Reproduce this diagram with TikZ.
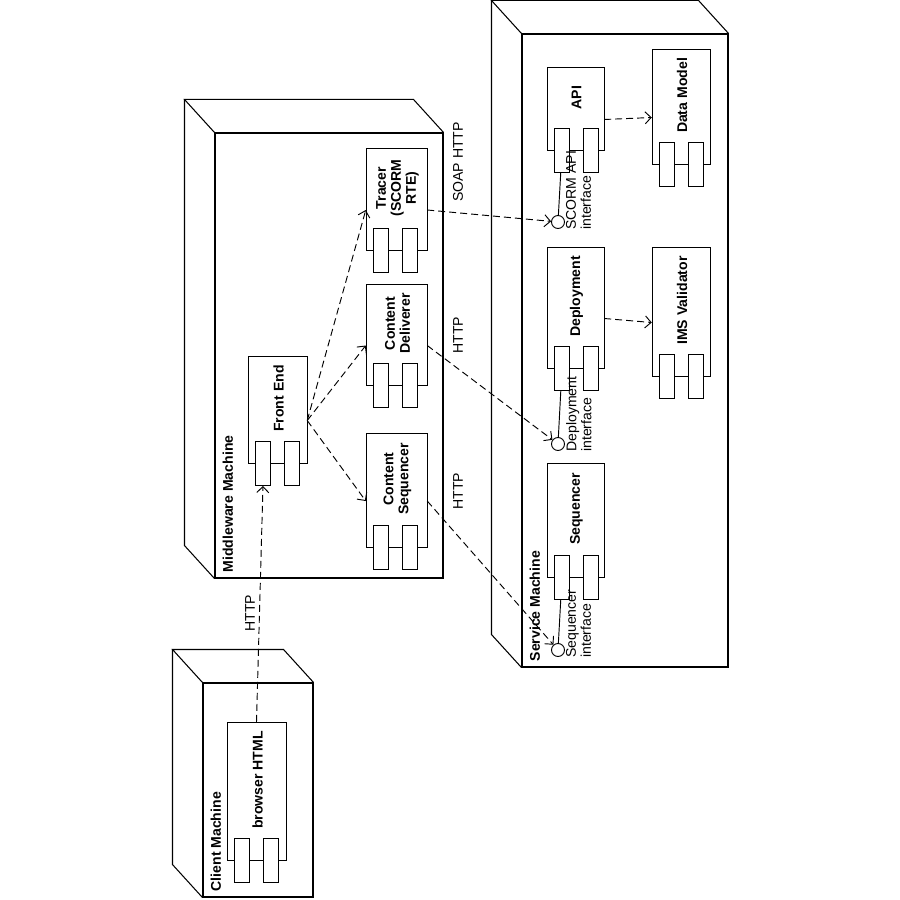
\documentclass[tikz,border=0pt]{standalone}
\usepackage{fontspec}
\setmainfont{Liberation Sans}
\usetikzlibrary{arrows.meta, positioning, calc, fit}
\newcommand{\dsize}{\fontsize{12}{12.8}\selectfont}
\tikzset{
	machine/.style={draw=black, line width=0.9pt, inner sep=0pt},
	body/.style={draw=black, line width=0.8pt},
	plug/.style={draw=black, line width=0.8pt, fill=white, minimum width=0.45cm, minimum height=1.32cm, inner sep=0pt},
	iface/.style={circle, draw=black, line width=0.8pt, fill=white, minimum size=0.39cm, inner sep=0pt},
	machlabel/.style={rotate=90, anchor=north west, inner sep=0pt, font=\dsize\bfseries},
	complabel/.style={rotate=90, align=center, inner sep=0pt, font=\dsize\bfseries},
	linklabel/.style={rotate=90, inner sep=0pt, font=\dsize},
	ifacelabel/.style={rotate=90, anchor=north west, align=left, inner sep=0pt, font=\dsize},
	deparrow/.style={-{Straight Barb[length=1.8mm, width=3.6mm]}, line width=0.8pt, dash pattern=on 2.1mm off 1.2mm},
}
% node box: name, x1, y1, x2, y2, text
\newcommand{\machine}[6]{
	\node[machine, fit={(#2,#3) (#4,#5)}] (#1) {};
	\draw[machine] (#1.north west) -- ++(-30,-33) -- ([shift={(-30,-33)}]#1.north east) -- (#1.north east);
	\draw[machine] ([shift={(-30,-33)}]#1.north west) -- ([shift={(-30,-33)}]#1.south west) -- (#1.south west);
	\node[machlabel] (#1-txt) at ([shift={(8,-6)}]#1.south west) {#6};
}
% component: name, x1, y1, x2, y2, text
\newcommand{\comp}[6]{
	\draw[body] (#2,#3) rectangle (#4,#5);
	\node[fit={(#2,#3) (#4,#5+22)}, inner sep=0pt] (#1) {};
	\node[plug, anchor=north west] (#1-p1) at (#2+7,#5-22) {};
	\node[plug, anchor=north west] (#1-p2) at (#2+36,#5-22) {};
	\node[complabel] (#1-txt) at ({(#2+#4)/2+1},{(#3+#5-22)/2}) {#6};
}

\begin{document}
\begin{tikzpicture}[x=0.03cm, y=-0.03cm, font=\dsize]
	\useasboundingbox (0,0) rectangle (900,900);
	% machines
	\machine{client}{203}{683}{313}{897}{Client Machine}
	\machine{middle}{215}{133}{443}{578}{Middleware Machine}
	\machine{service}{522}{34}{728}{667}{Service Machine}
	% components
	\comp{browser}{227}{722}{286}{860}{browser HTML}
	\comp{fe}{248}{356}{307}{463}{Front End}
	\comp{tr}{366}{148}{427}{250}{Tracer\\(SCORM\\RTE)}
	\comp{cd}{366}{284}{427}{385}{Content\\Deliverer}
	\comp{cs}{366}{433}{427}{547}{Content\\Sequencer}
	\comp{api}{547}{67}{604}{150}{API}
	\comp{dm}{652}{49}{710}{164}{Data Model}
	\comp{dep}{547}{247}{604}{368}{Deployment}
	\comp{ims}{652}{247}{710}{376}{IMS Validator}
	\comp{seq}{547}{463}{604}{577}{Sequencer}
	% interfaces
	\node[iface] (apiif) at (558,222) {};
	\node[iface] (depif) at (558,444) {};
	\node[iface] (seqif) at (558,650) {};
	\node[ifacelabel] (apiif-txt) at ([shift={(3,3)}]apiif.south east) {SCORM API\\interface};
	\node[ifacelabel] (depif-txt) at ([shift={(3,3)}]depif.south east) {Deployment\\interface};
	\node[ifacelabel] (seqif-txt) at ([shift={(3,3)}]seqif.south east) {Sequencer\\interface};
	\draw[body] (api-p1) -- (apiif);
	\draw[body] (dep-p1) -- (depif);
	\draw[body] (seq-p1) -- (seqif);
	% dependencies
	\draw[deparrow] (browser.north) -- (fe-p1.south);
	\draw[deparrow] (fe.east) -- (tr.west);
	\draw[deparrow] (fe.east) -- (cd.west);
	\draw[deparrow] (fe.east) -- (cs.west);
	\draw[deparrow] (tr.east) -- (apiif);
	\draw[deparrow] (cd.east) -- (depif);
	\draw[deparrow] (cs.east) -- (seqif);
	\draw[deparrow] (api.east) -- (dm.west);
	\draw[deparrow] (dep.east) -- (ims.west);
	\node[linklabel] (http1) at (250,613) {HTTP};
	\node[linklabel] (soap) at (458,162) {SOAP HTTP};
	\node[linklabel] (http2) at (458,335) {HTTP};
	\node[linklabel] (http3) at (458,491) {HTTP};
\end{tikzpicture}
\end{document}
